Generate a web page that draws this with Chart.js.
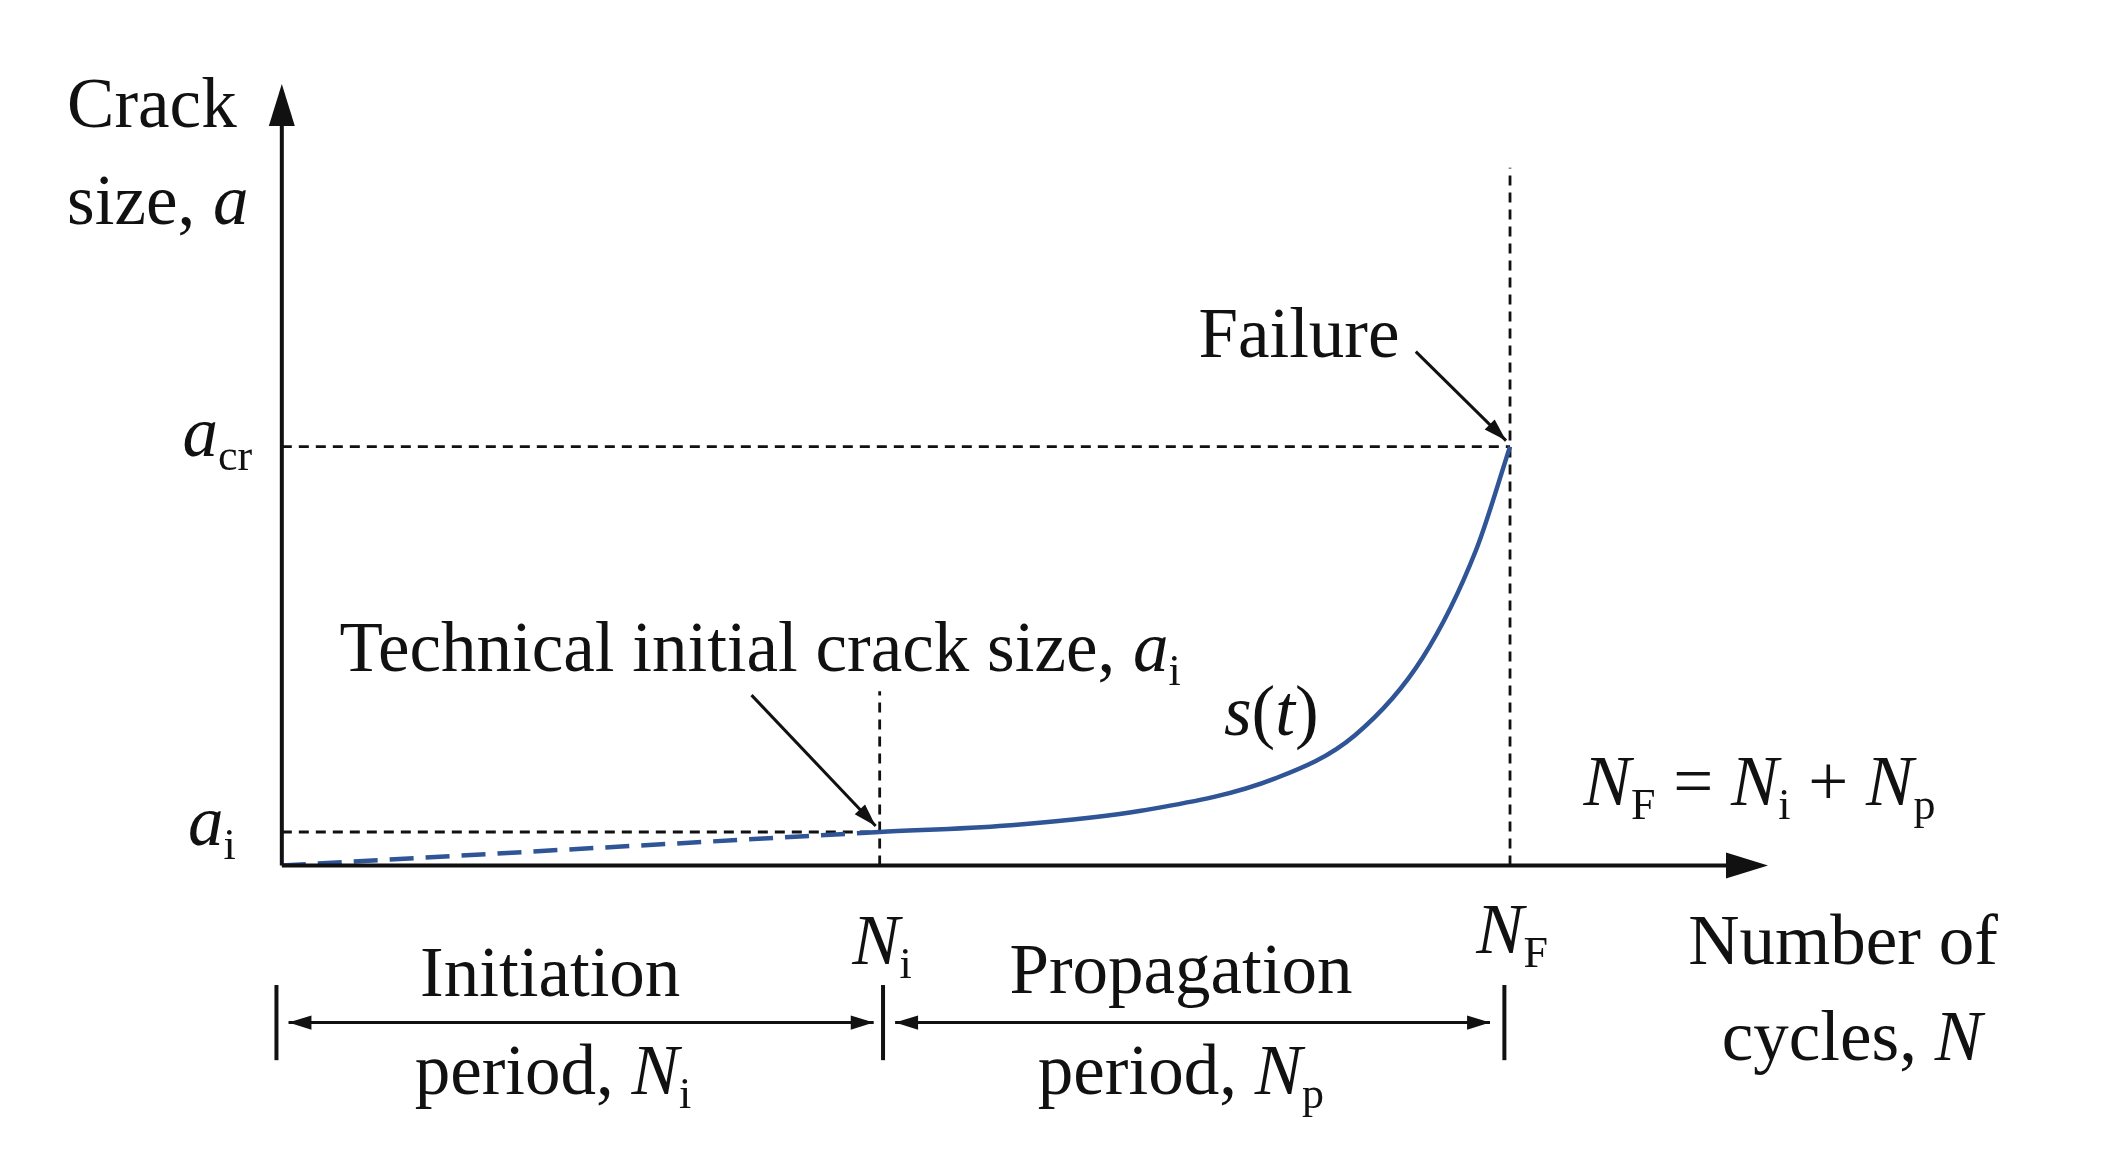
<!DOCTYPE html>
<html><head><meta charset="utf-8">
<script src="https://cdn.jsdelivr.net/npm/chart.js@4"></script>
<style>html,body{margin:0;padding:0;background:#fff}#wrap{width:2104px;height:1161px}</style>
</head><body><div id="wrap"><canvas id="c"></canvas></div>
<script>
// Key values (data units: x = cycles 0..100, y = crack size 0..100)
const Ni = 40.5, NF = 83.2, ai = 4.35, acr = 54.3;
const initX = [0, 40.5];
const initY = [0, 4.35];
const propX = [40.5, 49.1, 58.2, 67.3, 72.7, 77.3, 80.9, 83.2];
const propY = [4.35, 5.2, 7.1, 11.3, 16.9, 27, 40.9, 54.3];

const K = 1.342;
const FONT = '"Liberation Serif", "DejaVu Serif", serif';
const FS = 71;

function rich(ctx, segs, x, y, align) {
  x *= K; y *= K;
  const parts = segs.map(s => {
    const size = s.sub ? FS * 0.62 : FS;
    const f = (s.it ? 'italic ' : '') + size + 'px ' + FONT;
    ctx.font = f;
    return {t: s.t, f, w: ctx.measureText(s.t).width, dy: s.sub ? 14 : 0};
  });
  const tot = parts.reduce((a, p) => a + p.w, 0);
  let cx = align === 'center' ? x - tot / 2 : x;
  ctx.textAlign = 'left'; ctx.textBaseline = 'alphabetic'; ctx.fillStyle = '#111';
  for (const p of parts) { ctx.font = p.f; ctx.fillText(p.t, cx, y + p.dy); cx += p.w; }
}
function arrowHead(ctx, x1, y1, x2, y2, L) {
  const a = Math.atan2(y2 - y1, x2 - x1);
  ctx.beginPath(); ctx.moveTo(x2, y2);
  ctx.lineTo(x2 - L * Math.cos(a - 0.3), y2 - L * Math.sin(a - 0.3));
  ctx.lineTo(x2 - L * Math.cos(a + 0.3), y2 - L * Math.sin(a + 0.3));
  ctx.closePath(); ctx.fill();
}
function arrow(ctx, x1, y1, x2, y2, both) {
  ctx.beginPath(); ctx.moveTo(x1, y1); ctx.lineTo(x2, y2); ctx.stroke();
  arrowHead(ctx, x1, y1, x2, y2, 24);
  if (both) arrowHead(ctx, x2, y2, x1, y1, 24);
}

const deco = {
  id: 'deco',
  beforeDatasetsDraw(chart) {
    const ctx = chart.ctx, X = chart.scales.x, Y = chart.scales.y;
    const px = v => X.getPixelForValue(v), py = v => Y.getPixelForValue(v);
    ctx.save();
    ctx.strokeStyle = '#111'; ctx.lineWidth = 2.8; ctx.setLineDash([10, 7]);
    const line = (a, b, c, d) => { ctx.beginPath(); ctx.moveTo(a, b); ctx.lineTo(c, d); ctx.stroke(); };
    line(px(0), py(acr), px(NF), py(acr));
    line(px(0), py(ai), px(Ni), py(ai));
    line(px(Ni), py(0), px(Ni), 515 * K);
    line(px(NF), py(0), px(NF), 125 * K);
    ctx.restore();
  },
  afterDatasetsDraw(chart) {
    const ctx = chart.ctx, X = chart.scales.x, Y = chart.scales.y;
    const px = v => X.getPixelForValue(v), py = v => Y.getPixelForValue(v);
    ctx.save();
    ctx.strokeStyle = '#111'; ctx.fillStyle = '#111'; ctx.lineWidth = 4;
    ctx.beginPath(); ctx.moveTo(px(0), py(0)); ctx.lineTo(px(100) - 20, py(0)); ctx.stroke();
    arrowHead(ctx, px(0), py(0), px(100) + 10, py(0), 44);
    ctx.beginPath(); ctx.moveTo(px(0), py(0)); ctx.lineTo(px(0), py(100) + 20); ctx.stroke();
    arrowHead(ctx, px(0), py(0), px(0), py(100) - 10, 44);
    ctx.lineWidth = 3;
    arrow(ctx, 1055 * K, 262 * K, px(NF) - 4, py(acr) - 6);
    arrow(ctx, 560 * K, 518 * K, px(Ni) - 4, py(ai) - 6);
    const ya = 762 * K;
    arrow(ctx, 215 * K, ya, px(Ni) - 6, ya, true);
    arrow(ctx, 667 * K, ya, px(NF) - 20, ya, true);
    ctx.lineWidth = 4;
    [206, 658, 1121].forEach(x => { ctx.beginPath(); ctx.moveTo(x * K, 734 * K); ctx.lineTo(x * K, 790 * K); ctx.stroke(); });
    rich(ctx, [{t: 'Crack'}], 50, 95);
    rich(ctx, [{t: 'size, '}, {t: 'a', it: 1}], 50, 167);
    rich(ctx, [{t: 'a', it: 1}, {t: 'cr', sub: 1}], 136, 340);
    rich(ctx, [{t: 'a', it: 1}, {t: 'i', sub: 1}], 140, 630);
    rich(ctx, [{t: 'Failure'}], 893, 266);
    rich(ctx, [{t: 'Technical initial crack size, '}, {t: 'a', it: 1}, {t: 'i', sub: 1}], 253, 500);
    rich(ctx, [{t: 's', it: 1}, {t: '('}, {t: 't', it: 1}, {t: ')'}], 912, 548);
    rich(ctx, [{t: 'N', it: 1}, {t: 'F', sub: 1}, {t: ' = '}, {t: 'N', it: 1}, {t: 'i', sub: 1}, {t: ' + '}, {t: 'N', it: 1}, {t: 'p', sub: 1}], 1180, 600);
    rich(ctx, [{t: 'N', it: 1}, {t: 'i', sub: 1}], 635, 718);
    rich(ctx, [{t: 'N', it: 1}, {t: 'F', sub: 1}], 1100, 710);
    rich(ctx, [{t: 'Number of'}], 1258, 718);
    rich(ctx, [{t: 'cycles, '}, {t: 'N', it: 1}], 1283, 790);
    rich(ctx, [{t: 'Initiation'}], 410, 742, 'center');
    rich(ctx, [{t: 'period, '}, {t: 'N', it: 1}, {t: 'i', sub: 1}], 412, 815, 'center');
    rich(ctx, [{t: 'Propagation'}], 880, 740, 'center');
    rich(ctx, [{t: 'period, '}, {t: 'N', it: 1}, {t: 'p', sub: 1}], 880, 815, 'center');
    ctx.restore();
  }
};

new Chart(document.getElementById('c'), {
  type: 'scatter',
  data: {datasets: [
    {data: initX.map((x, i) => ({x, y: initY[i]})), showLine: true, borderColor: '#2f5597', borderWidth: 4.5, borderDash: [24, 12], pointRadius: 0},
    {data: propX.map((x, i) => ({x, y: propY[i]})), showLine: true, borderColor: '#2f5597', borderWidth: 4.5, cubicInterpolationMode: 'monotone', pointRadius: 0}
  ]},
  options: {
    responsive: true, maintainAspectRatio: false, animation: false,
    layout: {padding: {left: 210 * K, right: 2104 - 1310 * K, top: 70 * K, bottom: 1161 - 645 * K}},
    plugins: {legend: {display: false}, tooltip: {enabled: false}},
    scales: {
      x: {type: 'linear', min: 0, max: 100, display: false},
      y: {type: 'linear', min: 0, max: 100, display: false}
    }
  },
  plugins: [deco]
});
</script></body></html>
